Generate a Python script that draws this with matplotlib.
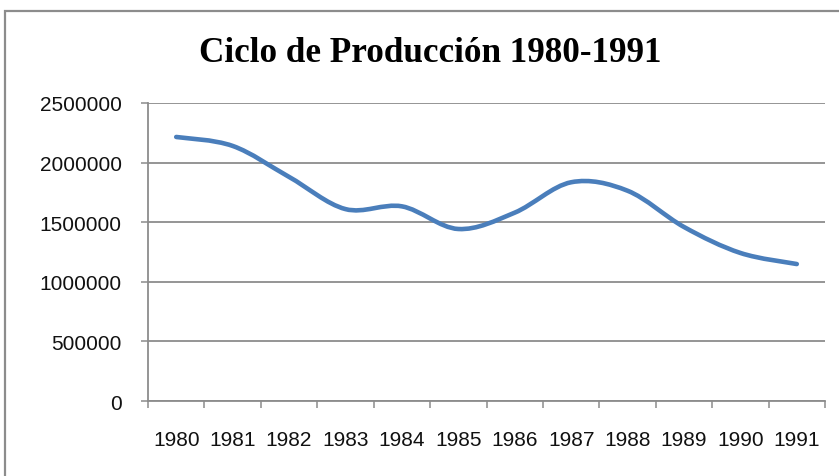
import matplotlib.pyplot as plt
import numpy as np
from matplotlib.path import Path
from matplotlib.patches import PathPatch, Rectangle

# data
years = ['1980', '1981', '1982', '1983', '1984', '1985',
         '1986', '1987', '1988', '1989', '1990', '1991']
produccion = [2215000, 2140000, 1880000, 1610000, 1633000, 1443000,
              1580000, 1835000, 1764000, 1460000, 1242000, 1149000]
y_ticks = [0, 500000, 1000000, 1500000, 2000000, 2500000]

W, H = 839, 477
fig = plt.figure(figsize=(W / 100, H / 100), dpi=100)

# chart border (cut off at right/bottom like the original)
fig.patches.append(Rectangle((5 / W, -0.1), 1.2, 1 - 12 / H + 0.1,
                             transform=fig.transFigure, fill=False,
                             edgecolor='#8c8c8c', linewidth=1.6))

ax = fig.add_axes([148 / W, 1 - 402 / H, (825 - 148) / W, (402 - 104) / H])

# smoothed line like excel (bezier through the points)
x = np.arange(len(produccion), dtype=float)
y = np.array(produccion, dtype=float)
n = len(x)
verts = [(x[0], y[0])]
codes = [Path.MOVETO]
for i in range(n - 1):
    i0 = max(i - 1, 0)
    i3 = min(i + 2, n - 1)
    c1 = (x[i] + (x[i + 1] - x[i0]) / 6, y[i] + (y[i + 1] - y[i0]) / 6)
    c2 = (x[i + 1] - (x[i3] - x[i]) / 6, y[i + 1] - (y[i3] - y[i]) / 6)
    verts += [c1, c2, (x[i + 1], y[i + 1])]
    codes += [Path.CURVE4] * 3
ax.add_patch(PathPatch(Path(verts, codes), fill=False, edgecolor='#4a7ebb',
                       linewidth=3.3, capstyle='round', joinstyle='round', zorder=3))

ax.set_xlim(-0.5, len(years) - 0.5)
ax.set_ylim(0, 2500000)
ax.set_yticks(y_ticks)
ax.set_yticklabels([str(v) for v in y_ticks])
ax.yaxis.grid(True, color='#8c8c8c', linewidth=1.3)
ax.set_axisbelow(True)

ax.set_xticks(np.arange(-0.5, len(years), 1.0))
ax.set_xticklabels([])
ax.set_xticks(x, minor=True)
ax.set_xticklabels(years, minor=True)

for s in ['top', 'right']:
    ax.spines[s].set_visible(False)
for s in ['left', 'bottom']:
    ax.spines[s].set_color('#8c8c8c')
    ax.spines[s].set_linewidth(1.3)

ax.tick_params(axis='both', which='major', color='#8c8c8c', width=1.1, length=5)
ax.tick_params(axis='y', labelsize=15, pad=14)
ax.tick_params(axis='x', which='minor', length=0, labelsize=15, pad=21)
for lab in ax.get_yticklabels() + ax.get_xticklabels(minor=True):
    lab.set_family('Liberation Sans')
    lab.set_color('#111111')

fig.text(430 / W, 1 - 54 / H, 'Ciclo de Producción 1980-1991', ha='center', va='center',
         fontsize=25.3, fontweight='bold', family='Liberation Serif')

fig.savefig('out.png', dpi=100)
